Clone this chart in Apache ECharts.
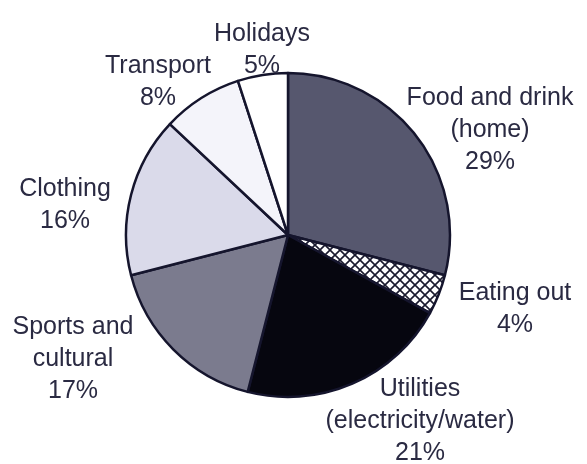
<!DOCTYPE html>
<html>
<head>
<meta charset="utf-8">
<script src="https://cdn.jsdelivr.net/npm/echarts@6/dist/echarts.min.js"></script>
<style>
  html, body { margin: 0; padding: 0; background: #ffffff; }
  #main { width: 587px; height: 464px; }
</style>
</head>
<body>
<div id="main"></div>
<script>
// spending shares, clockwise from 12 o'clock
var categories = ['Food and drink\n(home)', 'Eating out', 'Utilities\n(electricity/water)', 'Sports and\ncultural', 'Clothing', 'Transport', 'Holidays'];
var shares = [29, 4, 21, 17, 16, 8, 5];

// fills
var fills = ['#56576e', 'hatch', '#06060f', '#7b7b8e', '#dadaea', '#f4f4fa', '#ffffff'];
// label centres (layout only)
var labelPos = [[490, 130], [515, 309], [420, 421], [73, 359], [65, 205], [158, 82], [262, 50]];

// crosshatch tile for "Eating out"
function makeHatch() {
  var s = 10;
  var c = document.createElement('canvas');
  c.width = s; c.height = s;
  var ctx = c.getContext('2d');
  ctx.fillStyle = '#ffffff';
  ctx.fillRect(0, 0, s, s);
  ctx.strokeStyle = '#1a1a2e';
  ctx.lineWidth = 1.6;
  for (var k = -1; k <= 1; k++) {
    ctx.beginPath();
    ctx.moveTo(k * s - 1, -1); ctx.lineTo(k * s + s + 1, s + 1);
    ctx.moveTo(k * s - 1, s + 1); ctx.lineTo(k * s + s + 1, -1);
    ctx.stroke();
  }
  return c;
}
var hatch = makeHatch();

var data = [];
for (var i = 0; i < categories.length; i++) {
  var col = fills[i] == 'hatch' ? { image: hatch, repeat: 'repeat' } : fills[i];
  data.push({ name: categories[i], value: shares[i], itemStyle: { color: col } });
}

var chart = echarts.init(document.getElementById('main'), null, { renderer: 'canvas' });
var option = {
  backgroundColor: '#ffffff',
  animation: false,
  series: [{
    type: 'pie',
    center: [288, 235],
    radius: 162,
    startAngle: 90,
    clockwise: true,
    avoidLabelOverlap: false,
    itemStyle: {
      borderColor: '#15152d',
      borderWidth: 2.5
    },
    label: {
      show: true,
      position: 'outside',
      formatter: '{b}\n{c}%',
      color: '#2a2a42',
      fontFamily: 'Liberation Sans, Arial, sans-serif',
      fontSize: 25,
      lineHeight: 32,
      align: 'center'
    },
    labelLine: { show: false },
    labelLayout: function (params) {
      var p = labelPos[params.dataIndex];
      return { x: p[0], y: p[1], align: 'center', verticalAlign: 'middle' };
    },
    emphasis: { disabled: true },
    data: data
  }]
};
chart.setOption(option);
</script>
</body>
</html>
